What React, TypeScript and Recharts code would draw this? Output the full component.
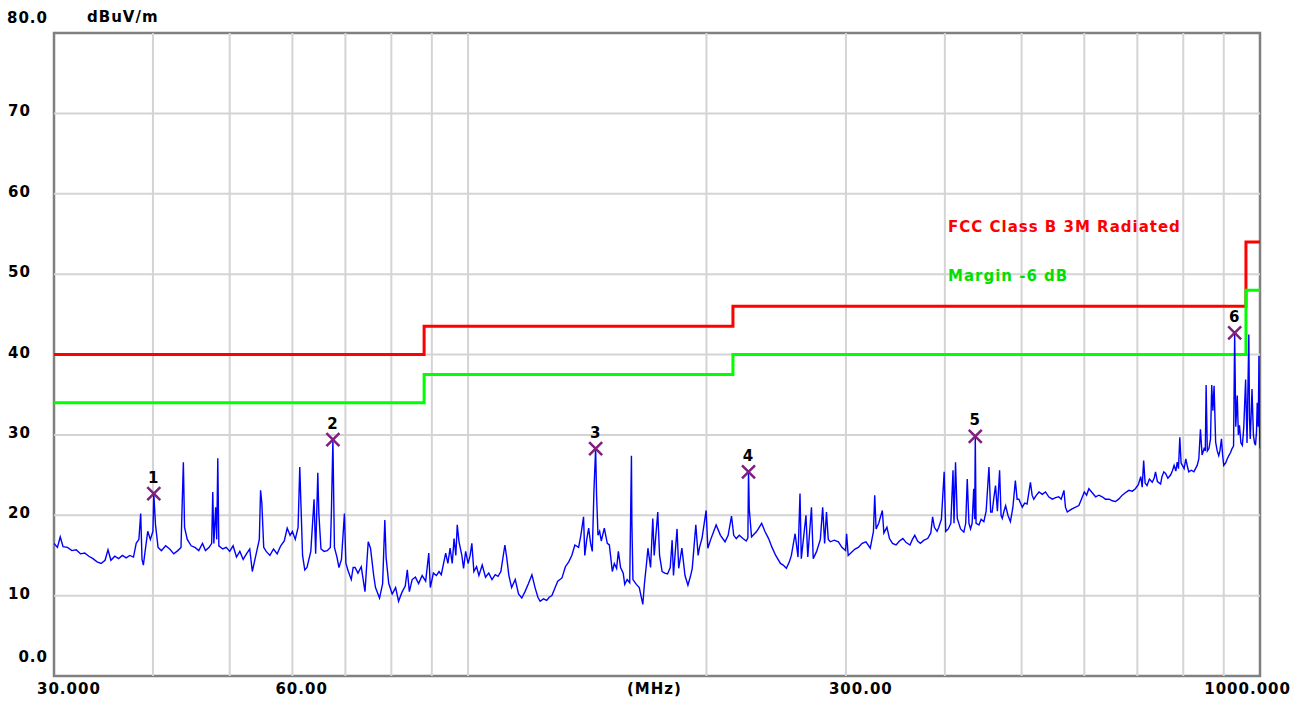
import { ComposedChart, Line, Scatter, XAxis, YAxis, ReferenceLine, ReferenceArea } from 'recharts'

// FCC limit lines (MHz, dBuV/m), drawn as steps
const limitMHz = [30, 88, 216, 960, 1000]
const fccLimitDb = [40, 43.5, 46, 54, 54]
const marginDb = [34, 37.5, 40, 48, 48]

// peak markers
const markerMHz = [40.1, 67.5, 144.9, 226.0, 437.0, 929.0]
const markerDb = [22.7, 29.4, 28.3, 25.4, 29.8, 42.7]
const markerNames = ['1', '2', '3', '4', '5', '6']

// axes
const yTicks = [0, 10, 20, 30, 40, 50, 60, 70, 80]
const yTickLabels = ['0.0', '10', '20', '30', '40', '50', '60', '70', '80.0']
const xTicks = [30, 60, 300, 1000]
const xTickLabels = ['30.000', '60.00', '300.00', '1000.000']
const gridMHz = [40, 50, 60, 70, 80, 90, 100, 200, 300, 400, 500, 600, 700, 800, 900]
const gridDb = [10, 20, 30, 40, 50, 60, 70]

// measured trace [MHz, dBuV/m]
const trace30to70 = [
  [30.0, 16.5], [30.3, 16.0], [30.55, 17.3], [30.8, 16.1], [31.2, 16.0], [31.6, 15.6], [32.0, 15.7], [32.4, 15.2],
  [32.8, 15.3], [33.2, 14.9], [33.6, 14.6], [34.0, 14.2], [34.4, 14.0], [34.8, 14.4], [35.1, 15.7], [35.4, 14.4],
  [35.8, 14.9], [36.2, 14.6], [36.6, 15.0], [37.0, 14.7], [37.4, 15.0], [37.8, 14.8], [38.1, 16.5], [38.4, 17.0],
  [38.6, 20.2], [38.75, 14.5], [38.9, 13.8], [39.1, 15.5], [39.4, 18.0], [39.7, 17.0], [40.0, 18.0], [40.1, 22.7],
  [40.3, 18.8], [40.6, 16.0], [41.0, 15.6], [41.5, 16.2], [42.0, 15.8], [42.5, 15.2], [43.0, 15.6], [43.4, 16.0],
  [43.55, 21.4], [43.7, 26.6], [43.85, 18.5], [44.2, 17.0], [44.7, 16.2], [45.2, 16.0], [45.7, 15.6], [46.2, 16.5],
  [46.6, 15.6], [47.1, 16.0], [47.45, 16.5], [47.6, 22.9], [47.75, 16.5], [48.0, 21.0], [48.15, 17.0], [48.3, 27.1],
  [48.45, 16.2], [49.0, 15.8], [49.5, 16.0], [50.0, 15.5], [50.5, 16.2], [51.0, 14.8], [51.5, 15.5], [52.0, 14.5],
  [52.5, 15.2], [53.0, 15.8], [53.4, 13.0], [54.0, 15.2], [54.5, 17.0], [54.7, 23.1], [54.9, 21.5], [55.2, 16.0],
  [55.6, 15.5], [56.2, 15.0], [56.8, 15.8], [57.4, 15.2], [58.0, 16.2], [58.6, 16.8], [59.1, 18.4], [59.6, 17.5],
  [60.0, 18.0], [60.5, 17.0], [61.0, 18.5], [61.3, 26.0], [61.5, 21.6], [61.8, 15.0], [62.2, 13.2], [62.6, 13.5],
  [63.3, 15.5], [63.9, 22.0], [64.2, 15.2], [64.6, 25.3], [64.8, 20.2], [65.2, 15.8], [65.8, 15.5], [66.4, 15.6],
  [67.0, 16.0], [67.2, 20.2], [67.5, 29.4], [67.8, 16.0], [68.3, 14.8], [68.7, 13.5], [69.2, 14.5], [69.8, 20.2],
  [70.1, 14.0],
]

const trace70to172 = [
  [70.6, 13.0], [71.2, 12.0], [71.6, 13.5], [72.0, 13.5], [72.6, 12.8], [73.3, 13.6], [74.1, 10.5], [74.8, 16.7],
  [75.3, 15.9], [76.0, 12.5], [76.4, 11.0], [77.3, 9.7], [78.0, 11.5], [78.5, 19.4], [78.8, 14.7], [79.4, 11.5],
  [80.2, 10.2], [81.0, 11.0], [81.7, 9.3], [82.5, 10.4], [83.3, 11.2], [83.8, 13.2], [84.3, 10.5], [85.0, 12.0],
  [85.8, 12.3], [86.6, 11.5], [87.5, 12.5], [88.4, 11.8], [89.2, 15.3], [89.6, 11.0], [90.4, 12.8], [91.2, 12.5],
  [91.9, 13.0], [92.5, 12.6], [93.7, 15.3], [94.3, 14.0], [94.9, 15.9], [95.5, 14.0], [96.0, 17.1], [96.5, 15.0],
  [96.9, 18.8], [97.4, 16.7], [98.2, 15.0], [98.7, 13.4], [99.3, 15.5], [100.0, 14.0], [100.6, 15.0], [101.1, 16.5],
  [101.7, 13.0], [102.5, 13.6], [103.2, 12.5], [104.2, 13.8], [105.2, 12.3], [106.2, 12.8], [107.2, 12.0], [108.2, 12.6],
  [109.1, 12.4], [110.0, 13.0], [111.3, 16.3], [111.9, 14.7], [112.6, 12.5], [113.5, 11.0], [114.7, 12.0], [115.8, 10.2],
  [116.9, 9.7], [118.0, 10.5], [119.2, 11.5], [120.4, 12.6], [121.5, 11.0], [122.5, 9.8], [123.3, 9.3], [124.5, 9.6],
  [125.7, 9.4], [126.6, 9.8], [127.6, 10.0], [128.8, 11.0], [129.8, 11.8], [131.4, 12.2], [132.7, 13.6], [134.0, 14.2],
  [135.2, 15.0], [136.4, 16.3], [137.9, 16.0], [138.8, 17.5], [139.9, 19.8], [140.4, 15.0], [141.2, 17.0], [142.0, 18.4],
  [142.8, 16.5], [143.5, 15.5], [144.2, 23.1], [144.9, 28.3], [145.3, 22.5], [145.9, 17.5], [146.6, 18.0], [147.3, 16.8],
  [148.6, 18.4], [149.9, 16.5], [150.8, 16.3], [152.1, 13.0], [153.0, 14.0], [154.0, 13.4], [154.8, 15.5], [155.8, 13.5],
  [157.0, 12.8], [157.7, 11.4], [158.8, 12.0], [160.0, 11.6], [160.8, 27.4], [161.0, 19.2], [161.5, 12.0], [163.1, 11.4],
  [164.5, 11.0], [166.2, 8.9], [167.0, 11.5], [168.0, 14.0], [168.7, 15.9], [170.0, 13.5], [171.1, 19.6], [171.8, 15.0],
]

const trace172to412 = [
  [173.6, 20.4], [174.5, 15.0], [175.8, 13.0], [177.2, 12.8], [178.6, 12.7], [180.0, 13.5], [181.0, 16.9], [181.7, 12.5],
  [183.6, 18.3], [184.5, 13.4], [186.2, 15.9], [187.9, 12.5], [189.5, 11.3], [191.0, 12.5], [191.9, 13.4], [193.9, 18.8],
  [195.2, 15.0], [196.0, 16.0], [197.4, 17.1], [199.8, 20.6], [200.8, 15.9], [202.5, 17.0], [205.7, 18.8], [208.3, 17.5],
  [211.1, 16.7], [213.0, 17.5], [215.1, 19.9], [216.5, 17.5], [218.1, 17.1], [220.0, 17.5], [222.4, 17.1], [224.5, 16.8],
  [225.6, 17.2], [226.0, 25.4], [226.5, 20.8], [228.0, 17.3], [229.0, 17.5], [231.5, 18.0], [234.8, 19.0], [237.0, 18.0],
  [239.6, 17.1], [242.0, 16.0], [244.6, 15.0], [248.0, 14.0], [250.0, 13.8], [252.3, 13.4], [254.5, 14.2], [256.0, 15.0],
  [258.8, 17.7], [261.0, 14.8], [262.5, 22.7], [263.5, 14.6], [267.1, 20.0], [268.5, 14.8], [271.4, 21.0], [272.8, 14.6],
  [275.5, 15.5], [278.5, 17.0], [280.4, 21.0], [282.0, 16.5], [283.5, 20.4], [285.0, 17.0], [286.7, 16.7], [290.0, 16.9],
  [293.5, 16.7], [296.5, 16.0], [299.7, 15.6], [300.6, 17.7], [302.0, 15.0], [305.0, 15.4], [308.0, 15.8], [311.0, 16.0],
  [314.5, 16.5], [318.0, 16.7], [322.0, 15.9], [325.0, 18.0], [326.2, 22.5], [327.5, 18.3], [330.0, 19.0], [333.5, 20.6],
  [335.0, 17.8], [338.0, 18.5], [340.5, 17.1], [343.5, 16.5], [347.1, 16.3], [350.5, 16.8], [354.0, 17.1], [357.5, 16.6],
  [361.4, 16.3], [364.0, 17.0], [366.5, 17.5], [369.5, 16.8], [372.5, 16.5], [376.5, 16.9], [380.5, 17.1], [384.0, 17.8],
  [386.0, 19.8], [388.0, 18.5], [391.0, 18.0], [393.0, 18.5], [396.0, 19.5], [399.2, 25.4], [401.0, 18.0], [404.0, 18.3],
  [407.0, 19.0], [409.6, 25.6], [410.8, 19.0],
]

const trace412to1000 = [
  [412.6, 26.6], [414.7, 19.6], [418.7, 18.3], [422.7, 17.9], [425.0, 19.0], [426.9, 24.5], [429.0, 19.0], [431.0, 18.3],
  [433.0, 19.0], [435.0, 23.3], [436.2, 19.5], [437.0, 29.8], [438.0, 19.0], [441.7, 18.8], [444.5, 19.5], [448.0, 19.2],
  [451.0, 20.5], [454.7, 26.0], [457.0, 20.4], [459.0, 20.4], [461.0, 22.0], [463.5, 23.7], [466.0, 20.5], [469.0, 25.6],
  [471.0, 20.0], [472.7, 19.6], [475.0, 20.5], [477.3, 21.2], [480.5, 20.0], [484.0, 19.2], [487.5, 21.0], [491.0, 24.3],
  [493.5, 22.0], [496.0, 22.0], [501.0, 21.0], [504.5, 21.5], [508.0, 21.4], [513.0, 24.1], [515.5, 22.5], [518.0, 22.0],
  [522.0, 22.5], [526.0, 22.9], [531.0, 22.6], [536.0, 22.9], [541.0, 22.3], [546.6, 22.0], [552.0, 22.2], [557.0, 22.3],
  [561.0, 22.0], [565.5, 23.1], [568.0, 21.0], [571.0, 20.4], [575.0, 20.6], [579.0, 20.8], [585.0, 21.0], [590.6, 21.2],
  [595.0, 22.0], [600.0, 22.9], [604.0, 22.5], [608.0, 23.3], [614.0, 22.8], [620.0, 22.3], [626.0, 22.5], [632.0, 22.3],
  [638.0, 22.0], [645.0, 22.0], [651.0, 21.8], [657.0, 21.7], [663.0, 22.0], [670.0, 22.5], [676.0, 22.8], [683.0, 23.1],
  [690.0, 23.0], [696.0, 23.3], [702.0, 23.8], [707.0, 24.8], [710.0, 23.5], [713.0, 26.8], [716.0, 24.0], [720.0, 23.7],
  [725.0, 24.5], [731.0, 24.1], [735.0, 24.6], [738.0, 25.4], [742.0, 24.2], [749.0, 23.9], [752.0, 24.8], [756.0, 25.4],
  [760.0, 25.2], [765.0, 24.6], [771.0, 25.0], [775.0, 25.5], [779.0, 26.2], [783.0, 25.5], [786.0, 26.6], [789.0, 25.8],
  [792.0, 29.7], [795.0, 26.5], [798.0, 26.2], [802.0, 25.8], [806.0, 27.0], [810.0, 26.0], [813.0, 25.4], [819.0, 25.6],
  [825.0, 25.4], [829.0, 25.8], [833.0, 26.2], [837.0, 27.0], [841.0, 30.7], [845.0, 27.5], [850.0, 28.3], [853.0, 28.0],
  [855.0, 36.2], [858.0, 28.0], [862.0, 28.3], [866.0, 29.5], [869.0, 36.2], [872.0, 33.0], [875.0, 36.1], [879.0, 29.1],
  [883.0, 28.0], [887.0, 27.4], [890.0, 28.0], [894.0, 29.5], [897.0, 27.5], [900.0, 26.2], [905.0, 26.5], [909.0, 27.0],
  [913.0, 27.4], [918.0, 27.8], [922.0, 28.3], [926.0, 28.6], [929.0, 42.7], [932.0, 31.0], [936.0, 34.9], [939.0, 30.0],
  [942.0, 31.2], [946.0, 29.0], [950.0, 28.7], [954.0, 31.0], [959.0, 36.9], [963.0, 29.0], [968.0, 42.5], [970.0, 32.0],
  [972.0, 29.5], [975.0, 33.0], [977.0, 35.7], [981.0, 30.0], [984.0, 29.0], [987.0, 28.7], [990.0, 30.5], [992.0, 34.0],
  [995.0, 31.0], [997.0, 39.8], [999.0, 30.0], [1000.0, 28.3],
]

const traceData = [...trace30to70, ...trace70to172, ...trace172to412, ...trace412to1000].map(([f, v]) => ({ f, v }))
const fccData = limitMHz.map((f, i) => ({ f, v: fccLimitDb[i] }))
const marginData = limitMHz.map((f, i) => ({ f, v: marginDb[i] }))
const markerData = markerMHz.map((f, i) => ({ f, v: markerDb[i], n: markerNames[i] }))

const font = {
  fontFamily: '"DejaVu Sans", sans-serif',
  fontWeight: 'bold' as const,
  fontSize: 15,
  letterSpacing: 1,
}

function YTick(props: any) {
  const { y, payload } = props
  const value = payload.value
  const label = yTickLabels[yTicks.indexOf(value)]
  const edge = value === 0 || value === 80
  const dy = value === 80 ? -15 : value === 0 ? -19 : -2
  return (
    <text x={edge ? 48 : 8} y={y + dy} textAnchor={edge ? 'end' : 'start'} dominantBaseline="central" fill="#000" style={font}>
      {label}
    </text>
  )
}

function XTick(props: any) {
  const { x, payload } = props
  const value = payload.value
  const label = xTickLabels[xTicks.indexOf(value)]
  const last = value === 1000
  return (
    <text x={last ? x + 31 : x - 17} y={689} textAnchor={last ? 'end' : 'start'} dominantBaseline="central" fill="#000" style={font}>
      {label}
    </text>
  )
}

function Marker(props: any) {
  const { cx, cy, payload } = props
  const s = 6.5
  return (
    <g>
      <path d={`M${cx - s},${cy - s}L${cx + s},${cy + s}M${cx + s},${cy - s}L${cx - s},${cy + s}`} stroke="#7f1f7f" strokeWidth={2.5} />
      <text x={cx} y={cy - 16} textAnchor="middle" dominantBaseline="central" fill="#000" style={font}>
        {payload.n}
      </text>
    </g>
  )
}

export default function App() {
  return (
    <div style={{ position: 'absolute', left: 0, top: 0, width: 1308, height: 702, background: '#fff' }}>
      <ComposedChart width={1308} height={702} margin={{ top: 33, right: 48, bottom: 0, left: 4 }}>
        <XAxis
          dataKey="f"
          type="number"
          scale="log"
          domain={[30, 1000]}
          allowDataOverflow
          ticks={xTicks}
          interval={0}
          axisLine={false}
          tickLine={false}
          height={26}
          tick={(p: any) => <XTick {...p} />}
        />
        <YAxis
          dataKey="v"
          type="number"
          domain={[0, 80]}
          ticks={yTicks}
          interval={0}
          width={50}
          axisLine={false}
          tickLine={false}
          tick={(p: any) => <YTick {...p} />}
        />
        {gridMHz.map((f) => (
          <ReferenceLine key={'gx' + f} x={f} stroke="#d4d4d4" strokeWidth={2} />
        ))}
        {gridDb.map((d) => (
          <ReferenceLine key={'gy' + d} y={d} stroke="#d4d4d4" strokeWidth={2} />
        ))}
        <Line data={fccData} dataKey="v" type="stepAfter" stroke="#ff0000" strokeWidth={3} dot={false} activeDot={false} isAnimationActive={false} />
        <Line data={marginData} dataKey="v" type="stepAfter" stroke="#00ff00" strokeWidth={3} dot={false} activeDot={false} isAnimationActive={false} />
        <Line data={traceData} dataKey="v" type="linear" stroke="#0000ff" strokeWidth={1.4} dot={false} activeDot={false} isAnimationActive={false} />
        <Scatter data={markerData} dataKey="v" shape={(p: any) => <Marker {...p} />} isAnimationActive={false} />
        <ReferenceArea x1={30} x2={1000} y1={0} y2={80} fill="none" fillOpacity={0} stroke="#808080" strokeWidth={2.5} ifOverflow="visible" />
      </ComposedChart>
      <div style={{ ...font, position: 'absolute', left: 87, top: 8, lineHeight: '18px', color: '#000' }}>dBuV/m</div>
      <div style={{ ...font, position: 'absolute', left: 627, top: 680, lineHeight: '18px', color: '#000' }}>(MHz)</div>
      <div style={{ ...font, position: 'absolute', left: 948, top: 218, lineHeight: '18px', color: '#ff0000' }}>FCC Class B 3M Radiated</div>
      <div style={{ ...font, position: 'absolute', left: 948, top: 267, lineHeight: '18px', color: '#00e000' }}>Margin -6 dB</div>
    </div>
  )
}
